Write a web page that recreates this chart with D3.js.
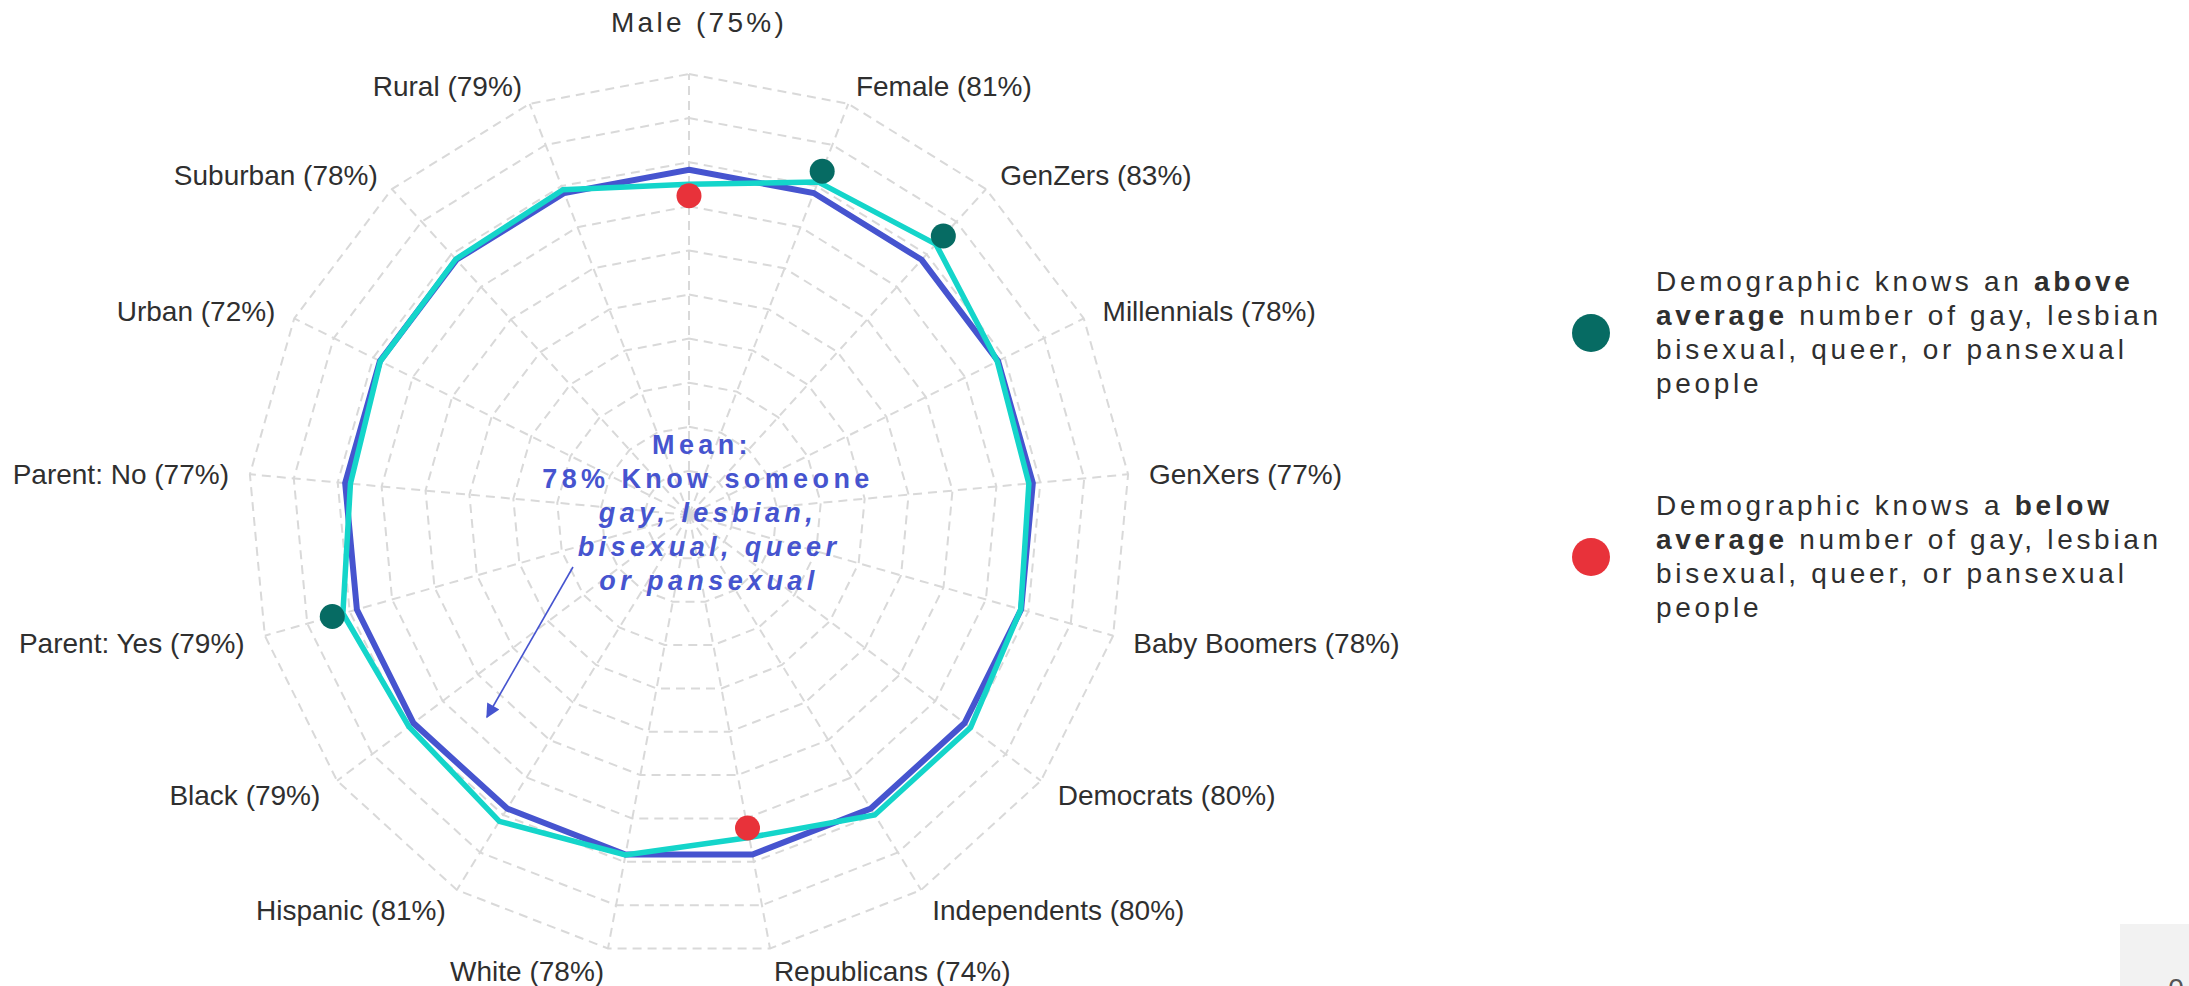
<!DOCTYPE html>
<html>
<head>
<meta charset="utf-8">
<script src="https://cdn.jsdelivr.net/npm/d3@7"></script>
<style>
  html, body { margin: 0; padding: 0; background: #ffffff; }
  svg { display: block; }
</style>
</head>
<body>
<svg id="chart" width="2189" height="986"></svg>
<script>
// ---------------- DATA ----------------
const categories = ["Male", "Female", "GenZers", "Millennials", "GenXers", "Baby Boomers",
  "Democrats", "Independents", "Republicans", "White", "Hispanic", "Black",
  "Parent: Yes", "Parent: No", "Urban", "Suburban", "Rural"];
const labelPercents = [75, 81, 83, 78, 77, 78, 80, 80, 74, 78, 81, 79, 79, 77, 72, 78, 79];
// plotted demographic values
const values = [75.0, 81.0, 83.1, 78.1, 77.4, 78.2, 80.0, 80.0, 74.4, 78.4, 81.7, 79.6, 81.6, 77.1, 78.2, 78.5, 79.1];
// mean line (blue)
const meanValue = 78.3;
// radial grid levels
const gridLevels = [10, 20, 30, 40, 50, 60, 70, 80, 90, 100];
// highlighted points
const dotCategories = ["Male", "Female", "GenZers", "Republicans", "Parent: Yes"];
const dotValues = [72.4, 83.6, 85.6, 72.2, 84.1];
const dotTypes = ["below", "above", "above", "below", "above"];
// annotation / legend text
const meanLines = ["Mean:", "78% Know someone", "gay, lesbian,", "bisexual, queer", "or pansexual"];
const legendItems = [
  { type: "above", lines: [["Demographic knows an ", "above"], ["average", " number of gay, lesbian"], ["bisexual, queer, or pansexual", ""], ["people", ""]] },
  { type: "below", lines: [["Demographic knows a ", "below"], ["average", " number of gay, lesbian"], ["bisexual, queer, or pansexual", ""], ["people", ""]] }
];

// ---------------- LAYOUT ----------------
const cx = 689, cy = 515;
const R = 441;
const colors = { mean: "#4654cf", teal: "#14d5ca", above: "#066b63", below: "#e8323a", grid: "#d9d9d9", text: "#2f2f2f" };

const svg = d3.select("#chart");
svg.append("rect").attr("width", 2189).attr("height", 986).attr("fill", "#fff");

const r = d3.scaleLinear().domain([0, 100]).range([0, R]);
const angle = d3.scaleLinear().domain([0, categories.length]).range([0, 2 * Math.PI]);

const g = svg.append("g").attr("transform", `translate(${cx},${cy})`);

// grid rings
const ringLine = d3.lineRadial().curve(d3.curveLinearClosed);
g.selectAll("path.ring").data(gridLevels).join("path")
  .attr("class", "ring")
  .attr("d", lv => ringLine(categories.map((c, i) => [angle(i), r(lv)])))
  .attr("fill", "none").attr("stroke", colors.grid).attr("stroke-width", 2)
  .attr("stroke-dasharray", "9,6");

// spokes
g.selectAll("line.spoke").data(categories).join("line")
  .attr("class", "spoke")
  .attr("x1", 0).attr("y1", 0)
  .attr("x2", (c, i) => d3.pointRadial(angle(i), r(100))[0])
  .attr("y2", (c, i) => d3.pointRadial(angle(i), r(100))[1])
  .attr("stroke", colors.grid).attr("stroke-width", 2).attr("stroke-dasharray", "9,6");

// mean line
const radial = d3.lineRadial().angle((d, i) => angle(i)).radius(d => r(d)).curve(d3.curveLinearClosed);
g.append("path").attr("d", radial(categories.map(() => meanValue)))
  .attr("fill", "none").attr("stroke", colors.mean).attr("stroke-width", 6).attr("stroke-linejoin", "miter");

// value line
g.append("path").attr("d", radial(values))
  .attr("fill", "none").attr("stroke", colors.teal).attr("stroke-width", 5.5).attr("stroke-linejoin", "miter");

// dots
g.selectAll("circle.dot").data(dotCategories).join("circle")
  .attr("class", "dot")
  .attr("cx", (c, k) => d3.pointRadial(angle(categories.indexOf(c)), r(dotValues[k]))[0])
  .attr("cy", (c, k) => d3.pointRadial(angle(categories.indexOf(c)), r(dotValues[k]))[1])
  .attr("r", 12.5)
  .attr("fill", (c, k) => colors[dotTypes[k]]);

// axis labels
const labelR = R + 21;
categories.forEach((c, i) => {
  const a = angle(i);
  const [x, y] = d3.pointRadial(a, labelR);
  const s = Math.sin(a);
  const t = g.append("text")
    .attr("font-family", "'Liberation Sans', Arial, sans-serif")
    .attr("font-size", 28).attr("fill", colors.text)
    .text(`${c} (${labelPercents[i]}%)`);
  if (Math.abs(s) < 1e-6) {
    t.attr("x", x + 10).attr("y", 32 - cy).attr("text-anchor", "middle")
     .attr("letter-spacing", 3.3);
  } else {
    t.attr("x", x).attr("y", y).attr("dy", "0.42em")
     .attr("text-anchor", s > 0 ? "start" : "end");
  }
});

// mean annotation
const meanX = [702, 708, 708, 709, 709];
const mt = svg.append("text")
  .attr("font-family", "'Liberation Sans', Arial, sans-serif")
  .attr("font-size", 27).attr("font-weight", "bold").attr("fill", colors.mean)
  .attr("letter-spacing", 4.4).attr("text-anchor", "middle");
meanLines.forEach((ln, i) => {
  mt.append("tspan").attr("x", meanX[i]).attr("y", 454 + i * 34)
    .attr("font-style", i >= 2 ? "italic" : "normal").text(ln);
});

// arrow
const defs = svg.append("defs");
defs.append("marker").attr("id", "arrowhead").attr("viewBox", "0 0 10 10")
  .attr("refX", 9).attr("refY", 5).attr("markerWidth", 16).attr("markerHeight", 14)
  .attr("markerUnits", "userSpaceOnUse").attr("orient", "auto")
  .append("path").attr("d", "M0,0 L10,5 L0,10 Z").attr("fill", colors.mean);
svg.append("line").attr("x1", 573).attr("y1", 567).attr("x2", 487).attr("y2", 717)
  .attr("stroke", colors.mean).attr("stroke-width", 1.6).attr("marker-end", "url(#arrowhead)");

// legend
const legendTop = [291, 515];
const dotY = [333, 557];
legendItems.forEach((item, k) => {
  svg.append("circle").attr("cx", 1591).attr("cy", dotY[k]).attr("r", 19).attr("fill", colors[item.type]);
  const lt = svg.append("text")
    .attr("font-family", "'Liberation Sans', Arial, sans-serif")
    .attr("font-size", 28).attr("fill", colors.text).attr("letter-spacing", 3.7);
  item.lines.forEach((ln, j) => {
    const base = lt.append("tspan").attr("x", 1656).attr("y", legendTop[k] + j * 34);
    if (j === 0) {
      base.text(ln[0]);
      lt.append("tspan").attr("font-weight", "bold").text(ln[1]);
    } else if (j === 1) {
      base.attr("font-weight", "bold").text(ln[0]);
      lt.append("tspan").text(ln[1]);
    } else {
      base.text(ln[0]);
    }
  });
});

// bottom-right box (cut off at the page edge, as in the original)
svg.append("rect").attr("x", 2120).attr("y", 924).attr("width", 69).attr("height", 62).attr("fill", "#f2f2f2");
svg.append("text").attr("x", 2176).attr("y", 998).attr("text-anchor", "middle")
  .attr("font-family", "'Liberation Sans', Arial, sans-serif").attr("font-size", 28).attr("fill", "#555").text("0");
</script>
</body>
</html>
